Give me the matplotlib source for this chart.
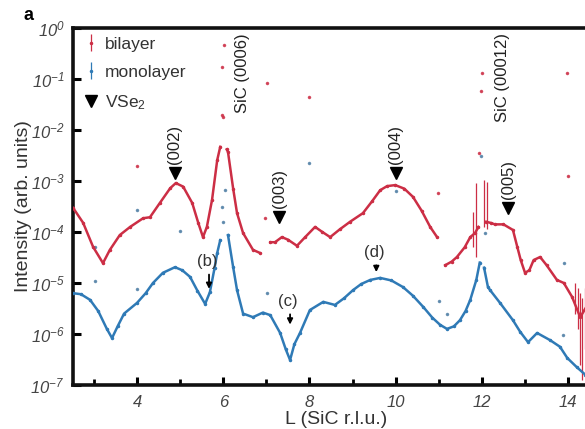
import numpy as np
import matplotlib
matplotlib.use("Agg")
import matplotlib.pyplot as plt
from matplotlib.ticker import FixedLocator

plt.rcParams['font.family'] = ['Liberation Sans', 'DejaVu Sans']
plt.rcParams['mathtext.fontset'] = 'custom'
plt.rcParams['mathtext.rm'] = 'Liberation Sans:italic'
plt.rcParams['mathtext.it'] = 'Liberation Sans:italic'
plt.rcParams['mathtext.sf'] = 'Liberation Sans'
plt.rcParams['mathtext.default'] = 'rm'

# ---------------- data (L, log10 intensity) ----------------
bi_L = [2.52, 2.75, 2.98, 3.21, 3.37, 3.60, 3.84, 4.14, 4.30, 4.53, 4.77, 4.90, 5.07, 5.28,
        5.42, 5.53, 5.62, 5.74, 5.86, 5.93, np.nan, 6.08, 6.11, 6.23, 6.32, 6.46, 6.69, 6.85,
        np.nan, 7.09, 7.20, 7.36, 7.50, 7.71, 7.90, 8.13, 8.30, 8.48, 8.70, 8.94, 9.24, 9.45,
        9.64, 9.80, 9.99, 10.20, 10.40, 10.60, 10.80, 10.96, np.nan, 11.15, 11.30, 11.42,
        11.60, 11.73, 11.84, 11.92, np.nan, 12.10, 12.20, 12.30, 12.50, 12.72, 12.82, 12.90,
        13.00, 13.10, 13.20, 13.35, 13.50, 13.74, 13.90, 14.09, 14.28, 14.40]
bi_logI = [-3.53, -3.82, -4.29, -4.61, -4.35, -4.06, -3.90, -3.73, -3.71, -3.43, -3.14, -3.04,
           -3.11, -3.43, -3.82, -4.10, -3.90, -3.37, -2.59, -2.33, np.nan, -2.38, -2.43, -3.15,
           -3.63, -4.02, -4.35, -4.41, np.nan, -4.20, -4.20, -4.10, -4.15, -4.27, -4.10, -3.90,
           -4.00, -4.10, -3.95, -3.80, -3.63, -3.40, -3.18, -3.10, -3.08, -3.15, -3.31, -3.58,
           -3.90, -4.10, np.nan, -4.65, -4.58, -4.49, -4.30, -4.10, -4.02, -3.90, np.nan, -3.80,
           -3.82, -3.85, -3.85, -3.96, -4.29, -4.55, -4.80, -4.75, -4.55, -4.49, -4.65, -4.94,
           -5.00, -5.27, -5.67, -5.50]

mono_L = [2.52, 2.70, 2.91, 3.10, 3.30, 3.42, 3.55, 3.70, 4.00, 4.20, 4.37, 4.60, 4.88, 5.05,
          5.23, 5.40, 5.58, 5.69, 5.80, 5.86, 5.93, np.nan, 6.11, 6.23, 6.32, 6.46,
          6.69, 6.92, 7.09, 7.32, 7.45, 7.55, 7.65, 7.78, 8.01, 8.32, 8.59, 8.80, 9.01, 9.20,
          9.41, 9.64, 9.90, 10.17, 10.40, 10.64, 10.85, 11.03, 11.19, 11.35, 11.49, 11.62,
          11.73, 11.87, 11.95, np.nan, 12.05, 12.14, 12.19, 12.42, 12.72, 12.89, 13.07, 13.28,
          13.58, 13.81, 13.98, 14.20, 14.40]
mono_logI = [-5.20, -5.22, -5.33, -5.55, -5.90, -6.08, -5.85, -5.60, -5.39, -5.20, -5.00,
             -4.80, -4.69, -4.75, -4.88, -5.15, -5.41, -5.18, -4.70, -4.41, -4.16,
             np.nan, -4.06, -4.69, -5.14, -5.60, -5.67, -5.58, -5.63, -5.98, -6.30,
             -6.51, -6.20, -5.98, -5.53, -5.37, -5.43, -5.30, -5.14, -5.02, -4.94, -4.90,
             -4.95, -5.08, -5.25, -5.47, -5.68, -5.82, -5.90, -5.85, -5.73, -5.55, -5.33,
             -4.94, -4.60, np.nan, -4.70, -5.08, -5.14, -5.39, -5.73, -5.96, -6.16, -5.98,
             -6.12, -6.25, -6.47, -6.65, -6.80]

# isolated points (substrate rod at integer L)
bi_stray_L = [4.00, 5.97, 6.02, 5.97, 5.99, 7.02, 7.99, 12.00, 11.97, 13.98, 10.98, 6.97, 14.00, 11.93]
bi_stray_logI = [-2.71, -0.76, -0.33, -1.70, -1.75, -1.08, -1.35, -0.88, -1.23, -0.88, -3.23, -3.73, -2.90, -2.45]
mono_stray_L = [3.03, 4.00, 4.00, 5.00, 7.02, 8.00, 10.00, 11.00, 11.20, 13.90, 12.07, 11.98,
                13.88, 3.03, 5.96, 6.04, 6.00]
mono_stray_logI = [-4.96, -5.12, -3.57, -3.98, -5.20, -2.65, -3.20, -5.35, -5.60, -4.60, -4.02,
                   -2.50, -6.02, -4.29, -3.51, -3.18, -3.80]

# visible error bars of the bilayer data (log10 low / high)
err_L = [11.80, 11.87, 12.05, 12.12, 14.15, 14.22, 14.28, 14.33, 14.38]
err_lo = [-4.30, -4.49, -3.90, -3.95, -5.60, -5.90, -6.60, -6.90, -6.30]
err_hi = [-3.60, -3.04, -2.98, -3.02, -5.00, -5.10, -5.20, -5.30, -5.10]

# VSe2 reflections
vse_labels = ['(002)', '(003)', '(004)', '(005)']
vse_L = [4.88, 7.30, 10.00, 12.61]
vse_logI = [-2.84, -3.70, -2.84, -3.53]

sic_labels = ['SiC (0006)', 'SiC (00012)']
sic_L = [6.44, 12.47]

arrow_labels = ['(b)', '(c)', '(d)']
arrow_L = [5.67, 7.55, 9.55]
arrow_top = [-4.78, -5.56, -4.60]
arrow_tip = [-5.17, -5.87, -4.84]

RED = '#cc2e45'
BLUE = '#2f7ab6'

fig = plt.figure(figsize=(5.85, 4.29), dpi=100)
ax = fig.add_axes([0.1248, 0.1026, 0.9009, 0.832])

def p10(v):
    return np.power(10.0, np.asarray(v, dtype=float))

ax.plot(bi_L, p10(bi_logI), '-', color=RED, lw=1.8, marker='.', ms=3, zorder=3)
ax.plot(mono_L, p10(mono_logI), '-', color=BLUE, lw=1.8, marker='.', ms=3, zorder=3)
ax.plot(bi_stray_L, p10(bi_stray_logI), '.', color=RED, ms=3, alpha=0.8, zorder=2)
ax.plot(mono_stray_L, p10(mono_stray_logI), '.', color='#4f7fa5', ms=3, alpha=0.8, zorder=2)
ax.vlines(err_L, p10(err_lo), p10(err_hi), color=RED, lw=0.9, zorder=2)

ax.plot(vse_L, p10(vse_logI), 'v', color='k', ms=8, zorder=4)
for lab, L, li in zip(vse_labels, vse_L, vse_logI):
    ax.text(L, p10(li + 0.18), lab, rotation=90, ha='center', va='bottom',
            fontsize=12, color='#222222')
for lab, L in zip(sic_labels, sic_L):
    ax.text(L, p10(-0.1), lab, rotation=90, ha='center', va='top',
            fontsize=12, color='#222222')
for lab, L, t, tip in zip(arrow_labels, arrow_L, arrow_top, arrow_tip):
    ax.annotate('', xy=(L, p10(tip)), xytext=(L, p10(t)),
                arrowprops=dict(arrowstyle='-|>', color='k', lw=1.3, mutation_scale=8))
    ax.text(L - 0.05, p10(t + 0.05), lab, ha='center', va='bottom', fontsize=12,
            color='#333333')

# legend proxies
h1 = ax.errorbar([np.nan], [np.nan], yerr=[1.0], fmt='.', color=RED, ms=3, lw=0.9, label='bilayer')
h2 = ax.errorbar([np.nan], [np.nan], yerr=[1.0], fmt='.', color=BLUE, ms=3, lw=0.9, label='monolayer')
h3, = ax.plot([np.nan], [np.nan], 'v', color='k', ms=8, label=r'VSe$_\mathsf{2}$')
ax.legend(handles=[h1, h2, h3], loc='upper left', frameon=False, fontsize=12.5,
          handlelength=0.6, handletextpad=0.5, labelspacing=0.75,
          bbox_to_anchor=(-0.005, 1.02), labelcolor='#333333')

ax.set_yscale('log')
ax.set_xlim(2.515, 14.74)
ax.set_ylim(1e-7, 1e0)
ax.yaxis.set_major_locator(FixedLocator([10.0 ** k for k in range(-7, 1)]))
ax.yaxis.set_minor_locator(FixedLocator([]))
ax.set_yticklabels([r'$10^{%d}$' % k for k in range(-7, 1)])
ax.xaxis.set_major_locator(FixedLocator([4, 6, 8, 10, 12, 14]))
ax.xaxis.set_minor_locator(FixedLocator([3, 5, 7, 9, 11, 13]))
for lbl in ax.get_xticklabels():
    lbl.set_fontstyle('italic')

ax.tick_params(axis='both', which='major', direction='in', length=6, width=2.2,
               labelsize=12, labelcolor='#444444')
ax.tick_params(axis='x', which='major', pad=7)
ax.tick_params(axis='y', which='major', pad=6)
ax.tick_params(axis='x', which='minor', direction='in', length=4, width=2)
ax.tick_params(axis='x', which='both', top=False)
ax.tick_params(axis='y', which='both', right=False)

for s in ['left', 'bottom', 'top']:
    ax.spines[s].set_linewidth(2.6)
    ax.spines[s].set_color('#111111')
ax.spines['right'].set_visible(False)

ax.set_xlabel('L (SiC r.l.u.)', fontsize=14, color='#333333', labelpad=1)
ax.set_ylabel('Intensity (arb. units)', fontsize=14, color='#333333', labelpad=-1)

fig.text(0.048, 0.965, 'a', fontsize=13, fontweight='bold', ha='center', va='center')

fig.savefig('out.png', dpi=100)
